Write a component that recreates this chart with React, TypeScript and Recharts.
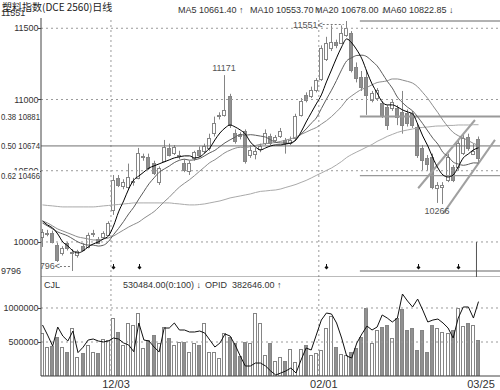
import React from 'react';
import { ComposedChart, Bar, Line, Scatter, XAxis, YAxis, ReferenceLine } from 'recharts';

// trading days, 2012-11-13 .. 2013-03-25
const dates = [
  '11/13', '11/14', '11/15', '11/16', '11/19', '11/20', '11/21', '11/22', '11/23', '11/26', '11/27', '11/28', '11/29', '11/30',
  '12/03', '12/04', '12/05', '12/06', '12/07', '12/10', '12/11', '12/12', '12/13', '12/14', '12/17', '12/18', '12/19', '12/20',
  '12/21', '12/24', '12/25', '12/26', '12/27', '12/28', '12/31',
  '01/04', '01/07', '01/08', '01/09', '01/10', '01/11', '01/14', '01/15', '01/16', '01/17', '01/18', '01/21', '01/22', '01/23',
  '01/24', '01/25', '01/28', '01/29', '01/30', '01/31',
  '02/01', '02/04', '02/05', '02/06', '02/07', '02/08', '02/18', '02/19', '02/20', '02/21', '02/22', '02/25', '02/26', '02/27', '02/28',
  '03/01', '03/04', '03/05', '03/06', '03/07', '03/08', '03/11', '03/12', '03/13', '03/14', '03/15', '03/18', '03/19', '03/20',
  '03/21', '03/22', '03/25',
];

const openP = [
  10035, 10060, 10063, 9979, 9920, 9990, 9925, 9910, 9975, 9965, 10055, 10020, 10035, 10050, 10225, 10449, 10390, 10386, 10420, 10449,
  10595, 10597, 10555, 10421, 10569, 10660, 10625, 10605, 10555, 10498, 10590, 10646, 10639, 10660, 10765, 10880, 10892, 11025, 10765, 10750,
  10779, 10611, 10620, 10650, 10695, 10744, 10720, 10744, 10716, 10695, 10730, 10892, 11032, 11025, 11067, 11140, 11290, 11360, 11404, 11400,
  11453, 11467, 11230, 11160, 11158, 10997, 11011, 10976, 10948, 10941, 10941, 10913, 10906, 10906, 10807, 10660, 10590, 10597, 10379, 10386,
  10435, 10527, 10527, 10625, 10737, 10620, 10720,
];
const highP = [
  10091, 10085, 10080, 9995, 9970, 10000, 9950, 9945, 9990, 10065, 10085, 10035, 10075, 10145, 10470, 10470, 10440, 10550, 10450, 10660,
  10620, 10620, 10570, 10530, 10716, 10690, 10680, 10640, 10580, 10570, 10640, 10670, 10690, 10760, 10880, 10910, 11171, 11040, 10790, 10770,
  10790, 10680, 10660, 10690, 10790, 10760, 10750, 10800, 10730, 10740, 10900, 11010, 11050, 11090, 11150, 11380, 11440, 11520, 11420, 11520,
  11551, 11480, 11260, 11200, 11207, 11060, 11080, 10990, 10960, 11000, 10960, 11060, 10930, 10920, 10830, 10680, 10610, 10620, 10420, 10420,
  10620, 10540, 10720, 10750, 10760, 10690, 10740,
];
const lowP = [
  9965, 10040, 9990, 9860, 9905, 9940, 9796, 9890, 9935, 9955, 10035, 9985, 10025, 10040, 10190, 10385, 10370, 10370, 10395, 10440,
  10570, 10505, 10470, 10400, 10560, 10600, 10610, 10580, 10490, 10470, 10570, 10595, 10620, 10640, 10740, 10860, 10880, 10800, 10690, 10720,
  10550, 10590, 10580, 10630, 10680, 10680, 10700, 10730, 10620, 10680, 10720, 10880, 10980, 11010, 11050, 11130, 11270, 11340, 11360, 11390,
  11440, 11190, 11120, 11060, 10892, 10980, 10990, 10870, 10786, 10920, 10820, 10760, 10810, 10800, 10590, 10505, 10500, 10370, 10274, 10266,
  10420, 10420, 10500, 10610, 10640, 10610, 10560,
];
const closeP = [
  10070, 10065, 10000, 9874, 9955, 9955, 9930, 9935, 9950, 10050, 10060, 9995, 10063, 10133, 10435, 10400, 10420, 10456, 10425, 10625,
  10600, 10519, 10484, 10519, 10667, 10611, 10667, 10611, 10505, 10555, 10632, 10611, 10674, 10730, 10835, 10890, 10927, 10821, 10709, 10745,
  10569, 10646, 10640, 10674, 10765, 10695, 10740, 10779, 10695, 10716, 10885, 10990, 10997, 11067, 11137, 11360, 11400, 11404, 11383, 11470,
  11502, 11210, 11150, 11090, 11032, 11046, 11067, 10892, 10821, 10983, 10878, 10821, 10835, 10821, 10611, 10576, 10545, 10386, 10400, 10400,
  10597, 10435, 10695, 10730, 10660, 10640, 10590,
];

const ma5 = [
  10147, 10119, 10098, 10056, 10000, 9972, 9937, 9923, 9937, 9965, 9986, 10000, 10021, 10042, 10112, 10211, 10288, 10372, 10435, 10463,
  10491, 10519, 10534, 10548, 10562, 10576, 10590, 10597, 10604, 10604, 10590, 10597, 10625, 10660, 10716, 10765, 10800, 10821, 10807, 10786,
  10758, 10702, 10667, 10646, 10660, 10674, 10681, 10681, 10688, 10695, 10716, 10772, 10842, 10906, 10969, 11032, 11123, 11207, 11292, 11369,
  11425, 11397, 11348, 11285, 11193, 11109, 11046, 10983, 10962, 10962, 10948, 10927, 10913, 10899, 10828, 10744, 10674, 10590, 10519, 10470,
  10456, 10470, 10527, 10590, 10618, 10646, 10661,
];
const ma10 = [
  10133, 10112, 10091, 10070, 10056, 10042, 10021, 10000, 9986, 9978, 9978, 9971, 9977, 10003, 10051, 10095, 10144, 10197, 10244, 10301,
  10355, 10408, 10450, 10489, 10512, 10533, 10557, 10573, 10581, 10574, 10577, 10586, 10605, 10626, 10643, 10670, 10696, 10717, 10736, 10755,
  10749, 10753, 10749, 10743, 10736, 10717, 10699, 10695, 10694, 10691, 10723, 10757, 10793, 10833, 10870, 10936, 11002, 11065, 11134, 11209,
  11271, 11293, 11309, 11311, 11300, 11269, 11236, 11184, 11128, 11080, 11017, 10978, 10946, 10920, 10878, 10830, 10779, 10728, 10686, 10628,
  10600, 10561, 10547, 10538, 10545, 10555, 10554,
];
const ma20 = [
  10147, 10133, 10112, 10091, 10077, 10063, 10049, 10035, 10028, 10021, 10014, 10014, 10021, 10028, 10042, 10063, 10084, 10105, 10123, 10140,
  10166, 10189, 10213, 10246, 10282, 10314, 10351, 10385, 10412, 10437, 10466, 10497, 10527, 10557, 10577, 10602, 10627, 10644, 10658, 10665,
  10663, 10670, 10677, 10685, 10690, 10694, 10698, 10706, 10715, 10724, 10736, 10755, 10771, 10788, 10803, 10827, 10851, 10880, 10914, 10951,
  10997, 11026, 11051, 11072, 11085, 11103, 11119, 11125, 11131, 11144, 11144, 11136, 11127, 11115, 11089, 11049, 11007, 10956, 10907, 10854,
  10808, 10769, 10746, 10729, 10711, 10692, 10678,
];
const ma60 = [
  10260, 10256, 10253, 10249, 10246, 10246, 10246, 10246, 10246, 10246, 10246, 10249, 10253, 10256, 10260, 10263, 10267, 10270, 10274, 10274,
  10274, 10274, 10274, 10274, 10274, 10274, 10270, 10267, 10263, 10260, 10260, 10263, 10267, 10274, 10281, 10288, 10298, 10309, 10316, 10323,
  10330, 10337, 10347, 10355, 10358, 10362, 10365, 10372, 10383, 10393, 10404, 10418, 10432, 10449, 10467, 10484, 10502, 10519, 10541, 10565,
  10593, 10614, 10632, 10649, 10667, 10684, 10706, 10723, 10741, 10755, 10769, 10779, 10786, 10793, 10800, 10804, 10807, 10811, 10814, 10814,
  10818, 10818, 10821, 10821, 10821, 10823, 10823,
];

const volume = [
  632000, 426000, 440000, 574000, 426000, 353000, 706000, 279000, 338000, 456000, 353000, 338000, 544000, 529000, 853000, 647000, 456000, 779000, 750000, 926000,
  412000, 529000, 603000, 485000, 721000, 559000, 456000, 500000, 500000, 353000, 485000, 456000, 779000, 353000, 353000, 265000, 632000, 574000, 485000, 294000,
  500000, 485000, 926000, 779000, 309000, 485000, 221000, 279000, 221000, 397000, 206000, 397000, 456000, 309000, 338000, 380000, 700000, 880000, 420000, 330000,
  310000, 353000, 412000, 574000, 1000000, 485000, 676000, 721000, 750000, 559000, 853000, 980000, 676000, 706000, 382000, 676000, 353000, 750000, 706000, 647000,
  632000, 676000, 1000000, 735000, 779000, 750000, 530484,
];
const opid = [
  356700, 345500, 333300, 354400, 344400, 338900, 350000, 326000, 332000, 340000, 341100, 338900, 337800, 338900, 342200, 341100, 336700, 334400, 327000, 358900,
  340000, 338900, 332200, 326700, 353300, 353300, 358900, 351100, 351100, 348900, 348900, 350000, 347800, 340000, 332200, 336700, 346700, 344400, 334400, 322200,
  311100, 311100, 314400, 314400, 311100, 305600, 301100, 303300, 305600, 308900, 303300, 317800, 331100, 328900, 345500, 362200, 370000, 368900, 358900, 342200,
  322200, 320000, 336700, 346700, 355500, 351100, 354400, 367800, 364400, 360000, 364400, 391100, 383300, 376700, 385500, 373300, 360000, 362200, 363300, 358900,
  353300, 342200, 364400, 376700, 376700, 364400, 382646,
];

const priceTicks = [11551, 11500, 11000, 10881, 10674, 10500, 10466, 10000, 9796];
const gridPrices = [11500, 11000, 10500, 10000];
const fibLevels = [11551, 10881, 10466, 9796];
const fibLabels: Record<number, string> = { 10881: '0.38 10881', 10674: '0.50 10674', 10466: '0.62 10466' };
const volTicks = [1000000, 500000];
const labelDates = ['12/03', '02/01', '03/25'];
const signalDates = ['12/03', '12/10', '02/04', '03/07', '03/19'];
const priceNotes = [
  { date: '11/21', p: 9796, text: '9796' },
  { date: '01/07', p: 11171, text: '11171' },
  { date: '02/08', p: 11551, text: '11551' },
  { date: '03/14', p: 10266, text: '10266' },
];
// hand drawn channel, [bar index, price] at each end
const channels = [
  [[74.1, 10377], [85.3, 10856]],
  [[79.05, 10201], [89.25, 10716]],
];
const maLegend = [
  { name: 'MA5', value: '10661.40', dir: '↑', x: 178 },
  { name: 'MA10', value: '10553.70', dir: '↑', x: 250 },
  { name: 'MA20', value: '10678.00', dir: '↓', x: 315 },
  { name: 'MA60', value: '10822.85', dir: '↓', x: 383 },
];

const X_DOMAIN: [number, number] = [-0.3, 90.24];
const PRICE_DOMAIN: [number, number] = [9754, 11572];
const VOL_DOMAIN: [number, number] = [0, 1455882];
const OPID_DOMAIN: [number, number] = [300000, 410000];
const FIB_FROM = 62.6;
const SIGNAL_LEVEL = 9825;

const NUM_FONT = '"Liberation Sans", Arial, sans-serif';
const CJK_FONT = '"Noto Sans CJK SC", "Liberation Sans", sans-serif';
const AXIS = '#444';
const GRID = '#9a9a9a';
const CANDLE = '#858585';
const CANDLE_FILL = '#909090';
const TEXT = '#333';

const rows = dates.map((d, i) => ({
  i,
  date: d,
  o: openP[i],
  h: highP[i],
  l: lowP[i],
  c: closeP[i],
  range: [lowP[i], highP[i]],
  ma5: ma5[i],
  ma10: ma10[i],
  ma20: ma20[i],
  ma60: ma60[i],
  vol: volume[i],
  opid: opid[i],
}));

const signals = signalDates.map((d) => ({ i: dates.indexOf(d), p: SIGNAL_LEVEL }));
const notes = priceNotes.map((n) => ({ ...n, i: dates.indexOf(n.date) }));
const separators = ['12/03', '02/01'].map((d) => dates.indexOf(d) - 0.5);
const dateTickIdx = labelDates.map((d) => dates.indexOf(d));

function Candle(props: any) {
  const { x, y, width, height, payload } = props;
  if (x == null || !payload) return null;
  const { o, h, l, c } = payload;
  const k = h > l ? height / (h - l) : 0;
  const mid = Math.round(x + width / 2);
  const yo = y + (h - o) * k;
  const yc = y + (h - c) * k;
  const top = Math.round(Math.min(yo, yc)) + 0.5;
  const bh = Math.max(1, Math.round(Math.abs(yo - yc)));
  const up = c >= o;
  return (
    <g>
      <line x1={mid - 0.5} x2={mid - 0.5} y1={y} y2={y + height} stroke={CANDLE} />
      <rect x={mid - 2.5} y={top} width={3} height={bh} fill={up ? '#fff' : CANDLE_FILL} stroke={CANDLE} />
    </g>
  );
}

function VolBar(props: any) {
  const { x, y, width, height, payload } = props;
  if (x == null || !payload) return null;
  const mid = Math.round(x + width / 2);
  const top = Math.round(y) + 0.5;
  const bottom = Math.round(y + height);
  const up = payload.c >= payload.o;
  return (
    <rect x={mid - 2.5} y={top} width={3} height={Math.max(0, bottom - top)} fill={up ? '#fff' : CANDLE_FILL} stroke={CANDLE} />
  );
}

function SignalMark({ cx, cy }: any) {
  const x = Math.round(cx) + 0.5;
  const y = Math.round(cy);
  return (
    <g>
      <line x1={x} x2={x} y1={y - 3} y2={y + 1} stroke="#111" />
      <path d={`M${x - 2},${y + 0.5} L${x},${y - 1.5} L${x + 2},${y + 0.5} L${x},${y + 2.5} Z`} fill="#111" />
    </g>
  );
}

function NoteMark({ cx, cy, payload }: any) {
  const style = { fontSize: 9, fill: '#555', fontFamily: NUM_FONT };
  if (payload.text === '11171') {
    return <text x={cx - 1} y={cy - 4} textAnchor="middle" {...style}>{payload.text}</text>;
  }
  if (payload.text === '10266') {
    return <text x={cx - 6} y={cy + 10} textAnchor="middle" {...style}>{payload.text}</text>;
  }
  if (payload.text === '11551') {
    const end = cx - 24;
    return (
      <g>
        <text x={end} y={cy + 7} textAnchor="end" {...style}>{payload.text + '<'}</text>
        <line x1={end} x2={cx - 3} y1={cy + 3.5} y2={cy + 3.5} stroke="#777" strokeDasharray="2 2" />
      </g>
    );
  }
  const end = cx - 13;
  return (
    <g>
      <text x={end} y={cy - 2.5} textAnchor="end" {...style}>{payload.text + '<'}</text>
      <line x1={end} x2={cx - 1} y1={cy - 4.5} y2={cy - 4.5} stroke="#777" strokeDasharray="2 2" />
    </g>
  );
}

function PriceTick({ y, payload }: any) {
  const v = payload.value;
  const style = { fontSize: 9, fill: TEXT, fontFamily: NUM_FONT };
  if (v === 11551 || v === 9796) {
    return <text x={1} y={v === 11551 ? y - 7.8 : y} dy={3.2} {...style}>{v}</text>;
  }
  const fib = fibLabels[v];
  if (fib) {
    return (
      <g>
        <rect x={0} y={y - 5} width={40} height={11} fill="#fff" />
        <text x={1} y={y} dy={3.2} textLength={39} lengthAdjust="spacingAndGlyphs" {...style} fontSize={8.6}>
          {fib}
        </text>
      </g>
    );
  }
  return (
    <g>
      <text x={38.5} y={y} dy={3.2} textAnchor="end" {...style}>{v}</text>
      <line x1={38} x2={41} y1={Math.round(y) + 0.5} y2={Math.round(y) + 0.5} stroke={AXIS} />
    </g>
  );
}

function VolTick({ y, payload }: any) {
  return (
    <g>
      <text x={38.5} y={y} dy={3.2} textAnchor="end" fontSize={9} fill={TEXT} fontFamily={NUM_FONT}>
        {payload.value}
      </text>
      <line x1={38} x2={41} y1={Math.round(y) + 0.5} y2={Math.round(y) + 0.5} stroke={AXIS} />
    </g>
  );
}

function DateTick({ x, y, payload }: any) {
  return (
    <text x={x + 2.5} y={y} dy={8} textAnchor="middle" fontSize={11} fill={TEXT} fontFamily={NUM_FONT}>
      {dates[payload.value]}
    </text>
  );
}

export default function App() {
  return (
    <div style={{ position: 'absolute', left: 0, top: 0, width: 500, height: 390, background: '#fff', overflow: 'hidden' }}>
      <div style={{ position: 'absolute', left: 0, top: 0 }}>
        <ComposedChart width={500} height={277} data={rows} margin={{ top: 18, right: 0, bottom: 0, left: 0 }}>
          <XAxis type="number" dataKey="i" domain={X_DOMAIN} hide allowDataOverflow />
          <YAxis
            type="number"
            domain={PRICE_DOMAIN}
            ticks={priceTicks}
            interval={0}
            width={41}
            tick={<PriceTick />}
            tickLine={false}
            axisLine={{ stroke: AXIS }}
            allowDataOverflow
          />
          {gridPrices.map((p) => (
            <ReferenceLine key={p} y={p} stroke={GRID} strokeDasharray="2 3" />
          ))}
          {separators.map((s) => (
            <ReferenceLine key={s} x={s} stroke={GRID} strokeDasharray="2 3" />
          ))}
          <ReferenceLine y={PRICE_DOMAIN[0]} stroke="#777" />
          {fibLevels.map((p) => (
            <ReferenceLine
              key={p}
              segment={[{ x: FIB_FROM, y: p }, { x: X_DOMAIN[1], y: p }]}
              stroke="#999"
              strokeWidth={p === 10881 ? 2 : 1.3}
              ifOverflow="hidden"
            />
          ))}
          <ReferenceLine y={10674} stroke="#707070" />
          {channels.map((seg, k) => (
            <ReferenceLine
              key={k}
              segment={[{ x: seg[0][0], y: seg[0][1] }, { x: seg[1][0], y: seg[1][1] }]}
              stroke="#a0a0a0"
              strokeWidth={2}
              ifOverflow="hidden"
            />
          ))}
          <ReferenceLine
            segment={[{ x: 85.6, y: 10000 }, { x: 85.6, y: PRICE_DOMAIN[0] }]}
            stroke="#555"
            ifOverflow="hidden"
          />
          <Bar dataKey="range" barSize={4} shape={<Candle />} isAnimationActive={false} />
          <Line type="monotone" dataKey="ma60" stroke="#aaaaaa" strokeWidth={1} dot={false} isAnimationActive={false} />
          <Line type="monotone" dataKey="ma20" stroke="#8c8c8c" strokeWidth={1} dot={false} isAnimationActive={false} />
          <Line type="monotone" dataKey="ma10" stroke="#5c5c5c" strokeWidth={1} dot={false} isAnimationActive={false} />
          <Line type="monotone" dataKey="ma5" stroke="#000" strokeWidth={1} dot={false} isAnimationActive={false} />
          <Scatter data={signals} dataKey="p" shape={<SignalMark />} isAnimationActive={false} />
          <Scatter data={notes} dataKey="p" shape={<NoteMark />} isAnimationActive={false} />
        </ComposedChart>
      </div>

      <div style={{ position: 'absolute', left: 0, top: 277 }}>
        <ComposedChart width={500} height={113} data={rows} margin={{ top: 0, right: 0, bottom: 0, left: 0 }}>
          <XAxis
            type="number"
            dataKey="i"
            domain={X_DOMAIN}
            ticks={dateTickIdx}
            interval={0}
            height={14}
            tickSize={0}
            tickMargin={4}
            tickLine={false}
            tick={<DateTick />}
            axisLine={{ stroke: AXIS }}
            allowDataOverflow
          />
          <YAxis
            type="number"
            domain={VOL_DOMAIN}
            ticks={volTicks}
            interval={0}
            width={41}
            tick={<VolTick />}
            tickLine={false}
            axisLine={{ stroke: AXIS }}
            allowDataOverflow
          />
          <YAxis yAxisId="op" orientation="right" type="number" domain={OPID_DOMAIN} hide allowDataOverflow />
          {volTicks.map((v) => (
            <ReferenceLine key={v} y={v} stroke={GRID} strokeDasharray="2 3" />
          ))}
          {separators.map((s) => (
            <ReferenceLine key={s} x={s} stroke={GRID} strokeDasharray="2 3" />
          ))}
          <Bar dataKey="vol" barSize={4} shape={<VolBar />} isAnimationActive={false} />
          <Line yAxisId="op" type="linear" dataKey="opid" stroke="#111" strokeWidth={1} dot={false} isAnimationActive={false} />
        </ComposedChart>
      </div>

      <svg width={500} height={390} style={{ position: 'absolute', left: 0, top: 0, pointerEvents: 'none' }}>
        <text x={2} y={10.5} fontSize={10} fill="#222" fontFamily={CJK_FONT}>塑料指数(DCE 2560)日线</text>
        {maLegend.map((m) => (
          <text key={m.name} x={m.x} y={12.5} fontSize={9} fill={TEXT} fontFamily={NUM_FONT}>
            {`${m.name} ${m.value} ${m.dir}`}
          </text>
        ))}
        <text x={44} y={288} fontSize={9} fill={TEXT} fontFamily={NUM_FONT}>CJL</text>
        <text x={123} y={288} fontSize={9} fill={TEXT} fontFamily={NUM_FONT}>530484.00(0:100) ↓</text>
        <text x={205} y={288} fontSize={9} fill={TEXT} fontFamily={NUM_FONT}>OPID</text>
        <text x={232} y={288} fontSize={9} fill={TEXT} fontFamily={NUM_FONT}>382646.00 ↑</text>
      </svg>
    </div>
  );
}
